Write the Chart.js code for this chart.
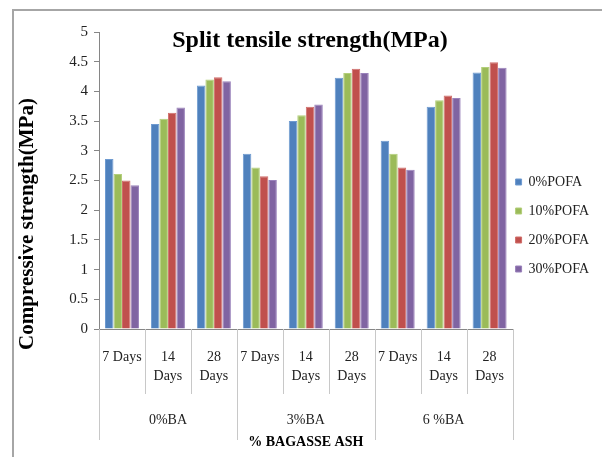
<!DOCTYPE html>
<html>
<head>
<meta charset="utf-8">
<script src="https://cdn.jsdelivr.net/npm/chart.js@4.4.1/dist/chart.umd.min.js"></script>
<style>
  html, body { margin: 0; padding: 0; background: #fff; }
  #wrap { width: 602px; height: 457px; }
</style>
</head>
<body>
<div id="wrap"><canvas id="splitChart" width="602" height="457"></canvas></div>
<script>
// Idades de cura dentro de cada teor de cinza de bagaço
const categorias = [
    ['7 Days'], ['14', 'Days'], ['28', 'Days'],
    ['7 Days'], ['14', 'Days'], ['28', 'Days'],
    ['7 Days'], ['14', 'Days'], ['28', 'Days']
];
const grupos = ['0%BA', '3%BA', '6 %BA'];
const series = ['0%POFA', '10%POFA', '20%POFA', '30%POFA'];

// Resistência à tração (MPa)
const pofa0 = [2.86, 3.45, 4.10, 2.95, 3.50, 4.23, 3.17, 3.74, 4.32];
const pofa10 = [2.61, 3.54, 4.20, 2.72, 3.60, 4.31, 2.95, 3.85, 4.41];
const pofa20 = [2.50, 3.64, 4.24, 2.57, 3.74, 4.38, 2.72, 3.93, 4.49];
const pofa30 = [2.42, 3.73, 4.17, 2.51, 3.78, 4.31, 2.68, 3.89, 4.40];

const yMin = 0;
const yMax = 5;
const yStep = 0.5;

const cores = ['#4F81BD', '#9BBB59', '#C0504D', '#8064A2'];
const bordas = ['#6f9bd1', '#b3cf7a', '#d06e6b', '#9a82bb'];
const fonte = '"Liberation Serif", "Times New Roman", serif';

// Moldura, linhas de separação do eixo x, rótulos dos grupos e títulos
const extras = {
    id: 'extras',
    afterLayout(chart) {
        // legenda um pouco mais perto do gráfico
        if (chart.legend) {
            chart.legend.left -= 12;
            chart.legend.right -= 12;
        }
    },
    beforeDraw(chart) {
        const ctx = chart.ctx;
        ctx.save();
        ctx.strokeStyle = '#a6a6a6';
        ctx.lineWidth = 2;
        ctx.beginPath();
        ctx.moveTo(13, 457);
        ctx.lineTo(13, 10);
        ctx.lineTo(602, 10);
        ctx.stroke();
        ctx.restore();
    },
    afterDraw(chart) {
        const ctx = chart.ctx;
        const xs = chart.scales.x;
        const base = chart.chartArea.bottom;
        ctx.save();
        ctx.strokeStyle = '#c8c8c8';
        ctx.lineWidth = 1;
        for (let i = 0; i <= categorias.length; i++) {
            const x = Math.round(xs.getPixelForValue(i - 0.5)) + 0.5;
            const fim = (i % 3 === 0) ? base + 111 : base + 65;
            ctx.beginPath();
            ctx.moveTo(x, base);
            ctx.lineTo(x, fim);
            ctx.stroke();
        }
        ctx.fillStyle = '#222';
        ctx.font = '14px ' + fonte;
        ctx.textAlign = 'center';
        ctx.textBaseline = 'middle';
        grupos.forEach((g, k) => {
            ctx.fillText(g, xs.getPixelForValue(k * 3 + 1), base + 91);
        });
        ctx.fillStyle = '#000';
        ctx.font = 'bold 24px ' + fonte;
        ctx.fillText('Split tensile strength(MPa)', 310, 41);

        // título do eixo y, centrado na altura do quadro
        ctx.translate(28, 224);
        ctx.rotate(-Math.PI / 2);
        ctx.font = 'bold 21px ' + fonte;
        ctx.fillText('Compressive strength(MPa)', 0, 0);
        ctx.restore();
    }
};

const ctx = document.getElementById('splitChart').getContext('2d');
const splitChart = new Chart(ctx, {
    type: 'bar',
    data: {
        labels: categorias,
        datasets: [pofa0, pofa10, pofa20, pofa30].map((valores, i) => ({
            label: series[i],
            data: valores,
            backgroundColor: cores[i],
            borderColor: bordas[i],
            borderWidth: 1,
            categoryPercentage: 0.74,
            barPercentage: 1.0
        }))
    },
    options: {
        responsive: false,
        animation: false,
        layout: {
            padding: { left: 13, top: 32, right: -9, bottom: 38 }
        },
        plugins: {
            title: { display: false },
            tooltip: { enabled: false },
            legend: {
                position: 'right',
                align: 'center',
                labels: {
                    boxWidth: 6,
                    boxHeight: 6,
                    padding: 15,
                    color: '#222',
                    font: { family: fonte, size: 14 }
                }
            }
        },
        scales: {
            x: {
                grid: { display: false },
                border: { display: true, color: '#868686' },
                ticks: {
                    color: '#222',
                    padding: 11,
                    maxRotation: 0,
                    autoSkip: false,
                    font: { family: fonte, size: 14, lineHeight: 1.35 }
                },
                title: {
                    display: true,
                    text: '% BAGASSE ASH',
                    color: '#000',
                    font: { family: fonte, size: 14, weight: 'bold' },
                    padding: { top: 0, bottom: -32 }
                },
                afterFit(scale) {
                    scale.height = 90;
                }
            },
            y: {
                min: yMin,
                max: yMax,
                ticks: {
                    stepSize: yStep,
                    color: '#222',
                    padding: 6,
                    font: { family: fonte, size: 15 },
                    callback: (v) => String(v)
                },
                grid: {
                    drawOnChartArea: false,
                    drawTicks: true,
                    tickLength: 5,
                    color: '#868686'
                },
                border: { display: true, color: '#868686' },
                afterFit(scale) {
                    scale.width = 86;
                }
            }
        }
    },
    plugins: [extras]
});
</script>
</body>
</html>
